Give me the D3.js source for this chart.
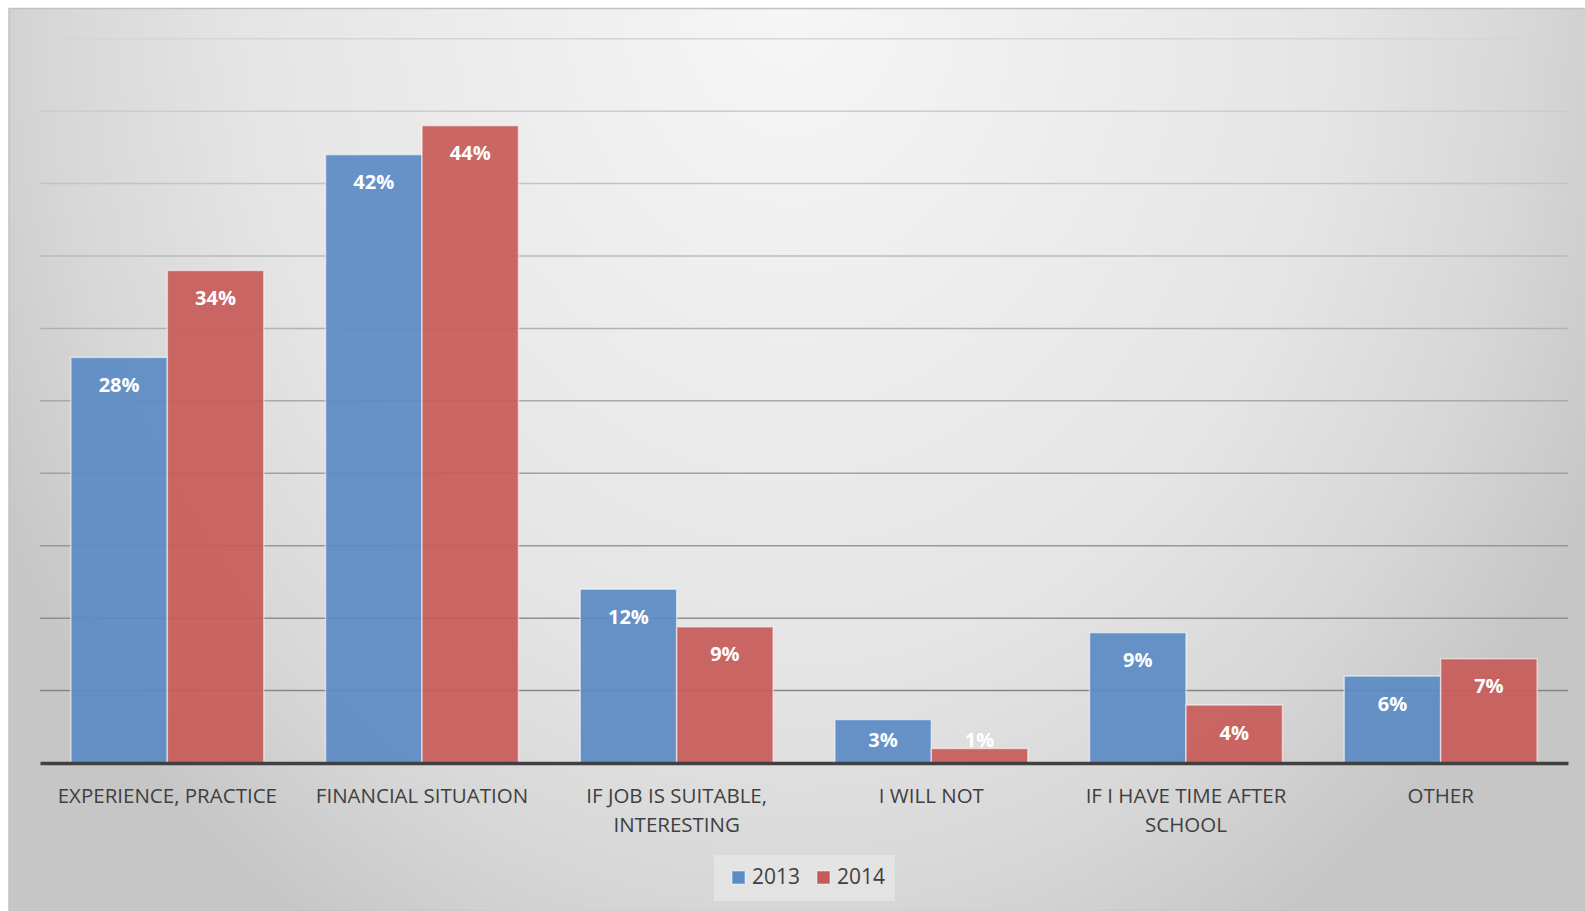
<!DOCTYPE html>
<html>
<head>
<meta charset="utf-8">
<script src="https://cdn.jsdelivr.net/npm/d3@7"></script>
<style>
  html, body { margin: 0; padding: 0; background: #ffffff; }
  svg { display: block; font-family: "Open Sans", "Noto Sans", sans-serif; }
</style>
</head>
<body>
<svg id="chart" width="1585" height="911"></svg>
<script>
// ---- data ----
const categories = [
  "EXPERIENCE, PRACTICE",
  "FINANCIAL SITUATION",
  "IF JOB IS SUITABLE, INTERESTING",
  "I WILL NOT",
  "IF I HAVE TIME AFTER SCHOOL",
  "OTHER"
];
const seriesNames = ["2013", "2014"];
const values2013 = [28, 42, 12, 3, 9, 6];
const values2014 = [34, 44, 9.4, 1, 4, 7.2];
const gridTicks = [0, 5, 10, 15, 20, 25, 30, 35, 40, 45, 50];

const seriesColors = ["#5b8bc5", "#c75b59"];

const W = 1585, H = 911;
const svg = d3.select("#chart");
const defs = svg.append("defs");

// background gradient
const bg = defs.append("radialGradient")
  .attr("id", "bgGrad")
  .attr("gradientUnits", "userSpaceOnUse")
  .attr("cx", 790).attr("cy", 0).attr("r", 900)
  .attr("gradientTransform", "translate(790,0) scale(1,1.22) translate(-790,0)");
bg.append("stop").attr("offset", 0).attr("stop-color", "#f6f6f6");
bg.append("stop").attr("offset", 0.6).attr("stop-color", "#e5e5e5");
bg.append("stop").attr("offset", 0.82).attr("stop-color", "#d7d7d7");
bg.append("stop").attr("offset", 1).attr("stop-color", "#c6c6c6");

// gridline gradient (lighter at top, darker at bottom)
const gg = defs.append("linearGradient")
  .attr("id", "gridGrad")
  .attr("gradientUnits", "userSpaceOnUse")
  .attr("x1", 0).attr("y1", 30).attr("x2", 0).attr("y2", 700);
gg.append("stop").attr("offset", 0).attr("stop-color", "#d6d6d6");
gg.append("stop").attr("offset", 1).attr("stop-color", "#858585");

svg.append("rect")
  .attr("x", 9).attr("y", 8.5).attr("width", W - 9 + 2).attr("height", H - 8)
  .attr("fill", "url(#bgGrad)")
  .attr("stroke", "#c2c2c2").attr("stroke-width", 1.5);

// scales
const plotLeft = 40, plotRight = 1568, baseY = 763, topY = 38.7;
const x0 = d3.scaleBand().domain(categories).range([plotLeft, plotRight]).paddingInner(0).paddingOuter(0);
const x1 = d3.scaleBand().domain(seriesNames).range([0, x0.bandwidth()]).paddingInner(0).paddingOuter(0.32);
const y = d3.scaleLinear().domain([0, 50]).range([baseY, topY]);

// gridlines
svg.append("g").selectAll("line")
  .data(gridTicks.filter(d => d > 0))
  .join("line")
  .attr("x1", plotLeft).attr("x2", plotRight)
  .attr("y1", d => y(d)).attr("y2", d => y(d))
  .attr("stroke", "url(#gridGrad)")
  .attr("stroke-width", 1.5);

// bars
const series = [values2013, values2014];
const barData = [];
categories.forEach((c, i) => {
  seriesNames.forEach((s, j) => {
    barData.push({ cat: c, series: s, value: series[j][i], color: seriesColors[j] });
  });
});

const bars = svg.append("g");
bars.selectAll("rect")
  .data(barData)
  .join("rect")
  .attr("x", d => x0(d.cat) + x1(d.series))
  .attr("y", d => y(d.value))
  .attr("width", x1.bandwidth())
  .attr("height", d => baseY - y(d.value))
  .attr("fill", d => d.color)
  .attr("fill-opacity", 0.93)
  .attr("stroke", "#ffffff")
  .attr("stroke-opacity", 0.55)
  .attr("stroke-width", 1.5);

// value labels
bars.selectAll("text")
  .data(barData)
  .join("text")
  .attr("x", d => x0(d.cat) + x1(d.series) + x1.bandwidth() / 2)
  .attr("y", d => Math.min(y(d.value) + 27, baseY - 24))
  .attr("text-anchor", "middle")
  .attr("dominant-baseline", "central")
  .attr("fill", "#ffffff")
  .attr("font-weight", "bold")
  .attr("font-size", 20)
  .text(d => Math.round(d.value) + "%");

// x axis
const xAxis = svg.append("g")
  .attr("transform", `translate(0,${baseY})`)
  .call(d3.axisBottom(x0).tickSize(0).tickPadding(0));
xAxis.select(".domain").attr("stroke", "#404040").attr("stroke-width", 3.5);
xAxis.selectAll(".tick text")
  .attr("fill", "#404040")
  .attr("font-size", 20.5)
  .attr("font-family", "'Open Sans', sans-serif")
  .attr("dy", null)
  .attr("y", 40)
  .each(function (d) {
    const t = d3.select(this);
    const words = d.split(" ");
    t.text(null);
    let line = [];
    let tspan = t.append("tspan").attr("x", 0).attr("dy", 0);
    for (const w of words) {
      line.push(w);
      tspan.text(line.join(" "));
      if (tspan.node().getComputedTextLength() > 244 && line.length > 1) {
        line.pop();
        tspan.text(line.join(" "));
        line = [w];
        tspan = t.append("tspan").attr("x", 0).attr("dy", 29).text(w);
      }
    }
  });

// legend
const legend = svg.append("g");
legend.append("rect")
  .attr("x", 714).attr("y", 855).attr("width", 181).attr("height", 46)
  .attr("fill", "#e6e6e6").attr("fill-opacity", 0.8);
const legX = [732, 817];
seriesNames.forEach((s, i) => {
  legend.append("rect")
    .attr("x", legX[i]).attr("y", 871).attr("width", 13).attr("height", 13)
    .attr("fill", seriesColors[i]).attr("stroke", "#ffffff").attr("stroke-opacity", 0.5);
  legend.append("text")
    .attr("x", legX[i] + 20).attr("y", 884)
    .attr("fill", "#404040").attr("font-size", 21)
    .text(s);
});
</script>
</body>
</html>
